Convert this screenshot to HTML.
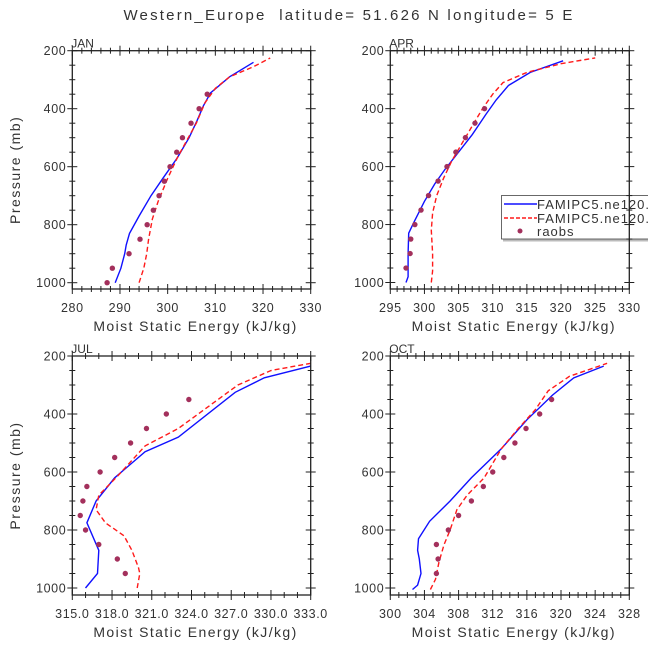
<!DOCTYPE html>
<html><head><meta charset="utf-8"><style>
html,body{margin:0;padding:0;background:#fff;}
svg{display:block;font-family:"Liberation Sans",sans-serif;}
text{white-space:pre;}
</style></head><body>
<svg id="chart" width="648" height="649" viewBox="0 0 648 649">
<text x="349" y="20" text-anchor="middle" font-size="15" letter-spacing="2.2" fill="#333">Western_Europe  latitude= 51.626 N longitude= 5 E</text>
</svg>
<script>
const janBlueV=[289,290.2,291,291.3,292,294,296.5,299,302,304.5,306.2,307.5,309,313,318];
const janBlueP=[1000,950,900,870,830,770,700,640,570,500,440,390,345,290,240];
const janRedV=[294,295,295.6,296,296.8,298,300,302,304,306,307.8,310,313,318,321.5];
const janRedP=[1000,950,900,850,780,720,640,570,510,450,380,330,290,255,225];
const janObsV=[287.3,288.4,291.9,294.2,295.7,297,298.2,299.3,300.5,301.9,303.1,304.9,306.6,308.3];
const janObsP=[1000,950,900,850,800,750,700,650,600,550,500,450,400,350];

const aprBlueV=[297.3,297.6,297.6,297.7,298.5,300,301.5,303,305,307,309,310.5,312.3,315.5,320.3];
const aprBlueP=[1000,980,900,830,790,720,660,610,550,490,420,370,320,275,235];
const aprRedV=[301,301.2,301.2,301,301.2,301.8,302.8,304,305.5,307,308.5,310,311.5,315,320,325];
const aprRedP=[1000,960,900,820,760,700,640,580,520,460,400,350,310,275,245,225];
const aprObsV=[297.3,297.9,298,298.6,299.5,300.6,302,303.3,304.6,306,307.4,308.8];
const aprObsP=[950,900,850,800,750,700,650,600,550,500,450,400];

const julBlueV=[316,316.9,317,316.1,316.8,318.2,320.5,323,327.3,329.5,333];
const julBlueP=[1000,950,870,775,700,620,530,480,325,275,235];
const julRedV=[319.9,320.1,320,319.5,318.9,317.5,316.8,317,318.5,320.5,323,327.5,330,333];
const julRedP=[1000,950,930,870,820,775,730,680,610,510,450,300,250,225];
const julObsV=[323.8,322.1,320.6,319.4,318.2,317.1,316.1,315.8,315.6,316,317,318.4,319];
const julObsP=[350,400,450,500,550,600,650,700,750,800,850,900,950];

const octBlueV=[302.6,303.2,303.6,303.4,303.2,303.3,304.6,307,309.5,313,316,319,321.5,325];
const octBlueP=[1005,990,950,900,870,830,770,700,620,520,420,335,275,235];
const octRedV=[304.7,305.3,305.7,306.3,307,307.8,309,311,313,315,317,318.5,321,325.4];
const octRedP=[1005,970,910,850,800,730,680,620,520,450,385,320,270,225];
const octObsV=[318.9,317.5,315.9,314.6,313.3,312,310.9,309.5,308,306.8,305.4,305.6,305.4];
const octObsP=[350,400,450,500,550,600,650,700,750,800,850,900,950];

const janXTicks=[280,290,300,310,320,330];
const aprXTicks=[295,300,305,310,315,320,325,330];
const julXTicks=[315,318,321,324,327,330,333];
const octXTicks=[300,304,308,312,316,320,324,328];
const pTicks=[200,400,600,800,1000];

const NS='http://www.w3.org/2000/svg';
const svg=document.getElementById('chart');
function mk(tag,attrs,parent){const e=document.createElementNS(NS,tag);for(const k in attrs)e.setAttribute(k,attrs[k]);(parent||svg).appendChild(e);return e;}

function panel(cfg){
  const g=mk('g',{});
  
  
  const L=cfg.x0,R=cfg.x1,T=cfg.y0,B=cfg.y1;
  const xs=v=>L+(v-cfg.xmin)/(cfg.xmax-cfg.xmin)*(R-L);
  const ys=p=>T+(p-200)*(cfg.y1000-T)/800;
  function line(V,P,color,dash,nm){
    const d=V.map((v,i)=>(i?'L':'M')+xs(v).toFixed(1)+','+ys(P[i]).toFixed(1)).join('');
    const pth=mk('path',{d:d,fill:'none',stroke:color,'stroke-width':1.4},g);
    if(dash)pth.setAttribute('stroke-dasharray','5,3');
    
    
  }
  line(cfg.bv,cfg.bp,'#1010ff',false,cfg.name+'-model-line-1');
  line(cfg.rv,cfg.rp,'#ff1a1a',true,cfg.name+'-model-line-2');
  cfg.ov.forEach((v,i)=>{
    const c=mk('circle',{cx:xs(v),cy:ys(cfg.op[i]),r:2.7,fill:'#a3305c'},g);
    
    
  });
  if(cfg.legend){
    const lg=mk('g',{},g);
    
    
    mk('rect',{x:503,y:197,width:150,height:44.5,fill:'#bbb'},lg);
    mk('rect',{x:501.5,y:195.5,width:150,height:43.5,fill:'#fff',stroke:'#444','stroke-width':0.8},lg);
    mk('line',{x1:504,y1:204,x2:537,y2:204,stroke:'#1010ff','stroke-width':1.4},lg);
    mk('line',{x1:504,y1:218,x2:537,y2:218,stroke:'#ff1a1a','stroke-width':1.4,'stroke-dasharray':'4,2'},lg);
    mk('circle',{cx:520,cy:231,r:2.5,fill:'#a3305c'},lg);
    const t1=mk('text',{x:537,y:209,'font-size':13,'letter-spacing':1,fill:'#333'},lg);t1.textContent='FAMIPC5.ne120.y';
    
    const t2=mk('text',{x:537,y:223,'font-size':13,'letter-spacing':1,fill:'#333'},lg);t2.textContent='FAMIPC5.ne120.y';
    
    const t3=mk('text',{x:537,y:236,'font-size':13,'letter-spacing':1,fill:'#333'},lg);t3.textContent='raobs';
    
  }
  const fr=mk('rect',{x:L,y:T,width:R-L,height:B-T,fill:'none',stroke:'#222','stroke-width':1.3},g);
  
  
  const tk=cfg.xt;
  for(let v=cfg.xmin;v<=cfg.xmax+1e-6;v+=cfg.minor){
    const x=xs(v);const major=tk.some(t=>Math.abs(t-v)<1e-6);
    const len=major?5:3;
    mk('line',{x1:x,y1:B-len,x2:x,y2:B+len,stroke:'#222','stroke-width':1},g);
    mk('line',{x1:x,y1:T-len,x2:x,y2:T+len,stroke:'#222','stroke-width':1},g);
  }
  tk.forEach(t=>{
    const tx=mk('text',{x:xs(t),y:B+23,'text-anchor':'middle','font-size':12.5,'letter-spacing':0.6,fill:'#333'},g);
    tx.textContent=cfg.fmt?t.toFixed(1):String(t);
    
    
  });
  for(let p=200;p<=1000;p+=50){
    const y=ys(p);const major=p%200===0;const len=major?5:3;
    mk('line',{x1:L-len,y1:y,x2:L+len,y2:y,stroke:'#222','stroke-width':1},g);
    mk('line',{x1:R-len,y1:y,x2:R+len,y2:y,stroke:'#222','stroke-width':1},g);
  }
  pTicks.forEach(p=>{
    const tx=mk('text',{x:L-6,y:ys(p)+4.5,'text-anchor':'end','font-size':12.5,'letter-spacing':0.6,fill:'#333'},g);
    tx.textContent=String(p);
    
    
  });
  const mt=mk('text',{x:L-1,y:T-3,'font-size':12,fill:'#333'},g);
  mt.textContent=cfg.label;
  
  
  const xt=mk('text',{x:(L+R)/2+4,y:B+42,'text-anchor':'middle','font-size':14,'letter-spacing':1.4,fill:'#333'},g);
  xt.textContent='Moist Static Energy (kJ/kg)';
  
  
  if(cfg.ytitle){
    const cy=(T+B)/2;
    const yt=mk('text',{x:20,y:cy,'text-anchor':'middle','font-size':14,'letter-spacing':1.5,fill:'#333',transform:'rotate(-90 20 '+cy+')'},g);
    yt.textContent='Pressure (mb)';
    
    
  }
}
panel({name:'jan',label:'JAN',x0:72.3,x1:310.7,y0:50.7,y1000:282.7,y1:289,xmin:280,xmax:330,minor:2,xt:janXTicks,bv:janBlueV,bp:janBlueP,rv:janRedV,rp:janRedP,ov:janObsV,op:janObsP,ytitle:true});
panel({name:'apr',label:'APR',x0:390.3,x1:629.3,y0:50.7,y1000:282.5,y1:289,xmin:295,xmax:330,minor:1,xt:aprXTicks,bv:aprBlueV,bp:aprBlueP,rv:aprRedV,rp:aprRedP,ov:aprObsV,op:aprObsP,legend:true});
panel({name:'jul',label:'JUL',x0:72.3,x1:310.7,y0:356,y1000:588,y1:595,xmin:315,xmax:333,minor:1,xt:julXTicks,fmt:true,bv:julBlueV,bp:julBlueP,rv:julRedV,rp:julRedP,ov:julObsV,op:julObsP,ytitle:true});
panel({name:'oct',label:'OCT',x0:390.3,x1:629.3,y0:356,y1000:588,y1:595,xmin:300,xmax:328,minor:1,xt:octXTicks,bv:octBlueV,bp:octBlueP,rv:octRedV,rp:octRedP,ov:octObsV,op:octObsP});
</script>
</body></html>
